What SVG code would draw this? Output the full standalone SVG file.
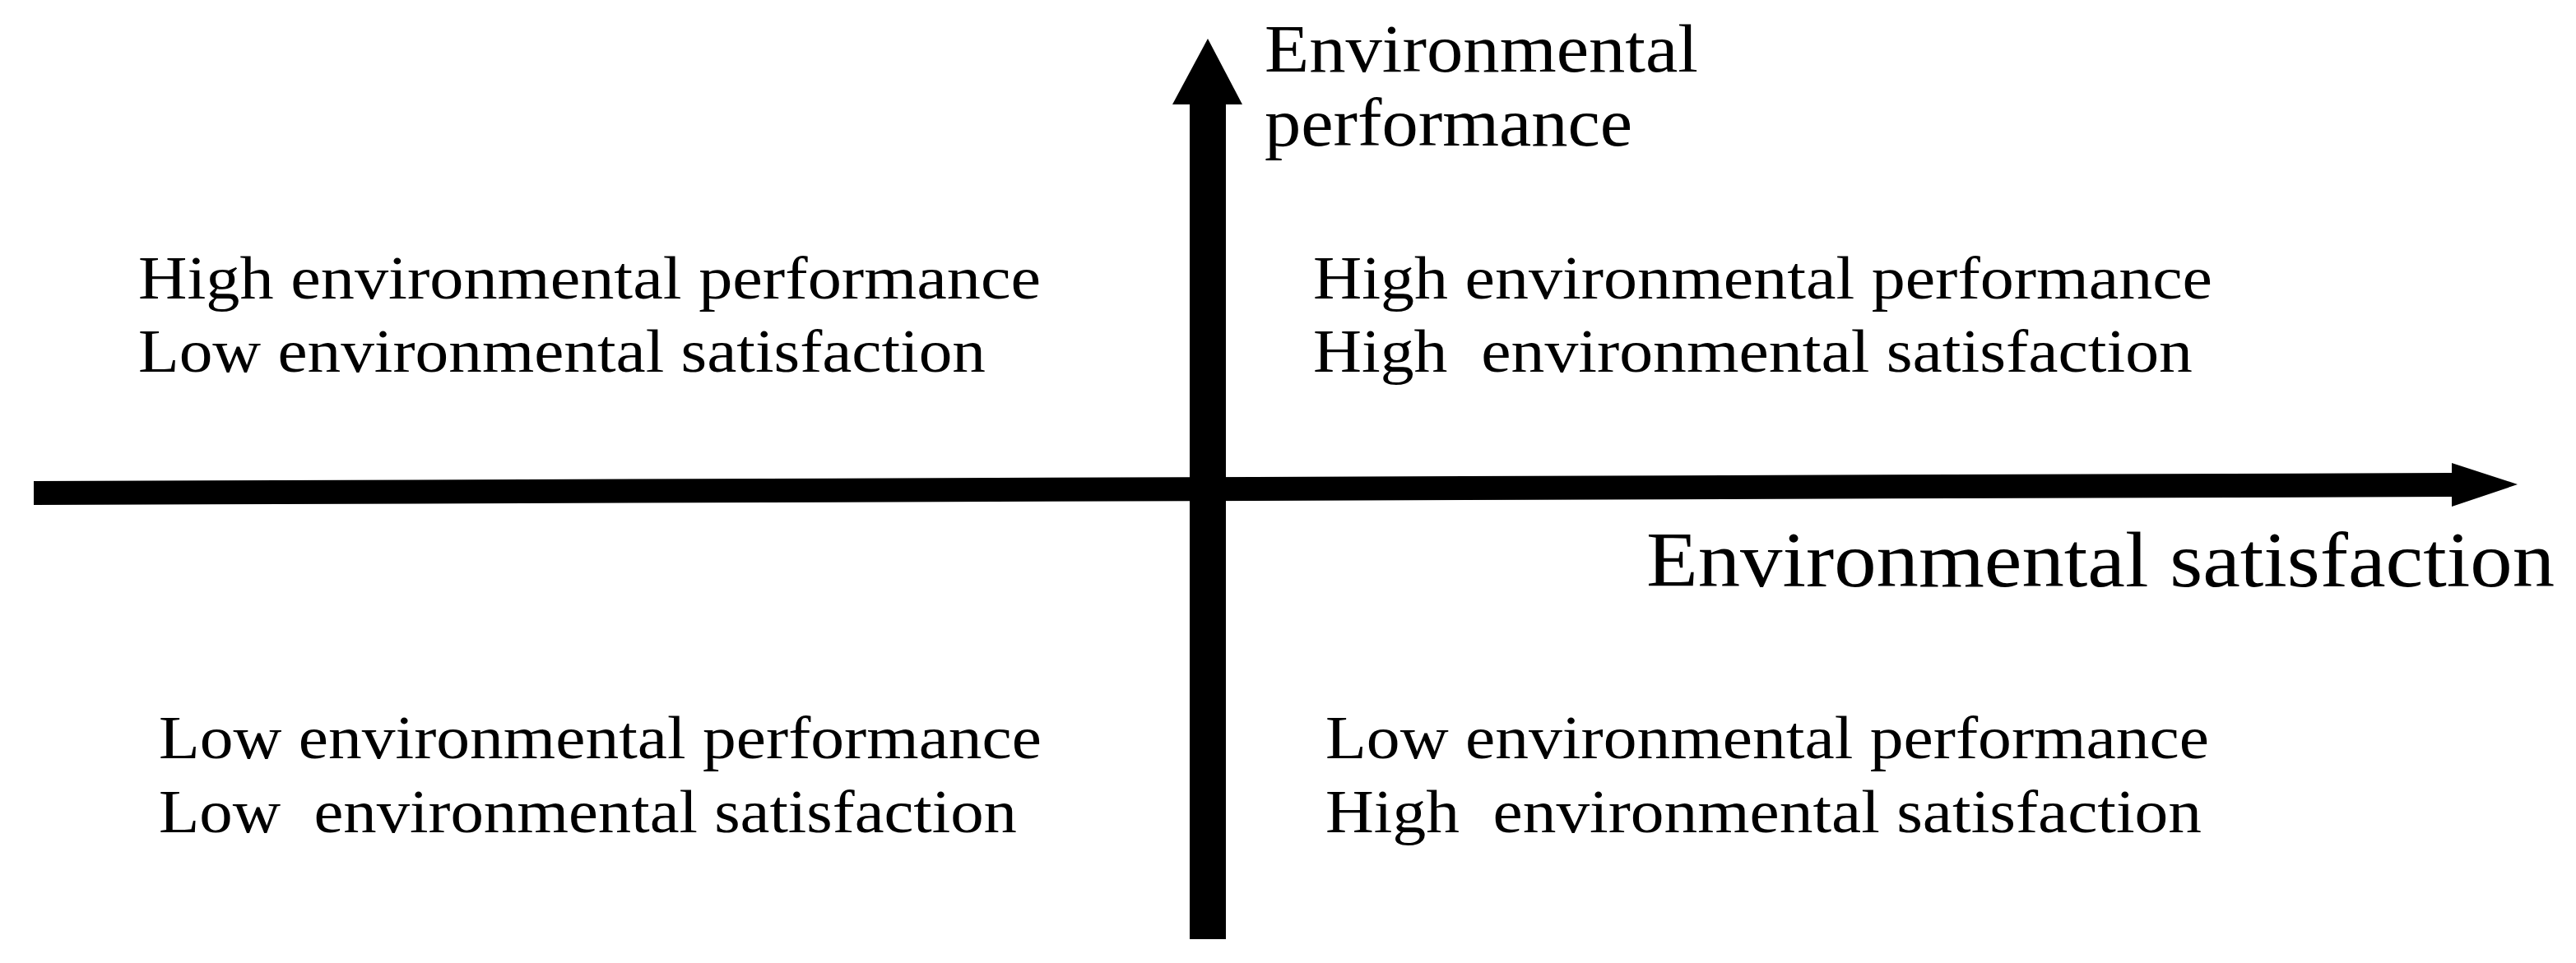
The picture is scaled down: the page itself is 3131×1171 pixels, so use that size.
<svg xmlns="http://www.w3.org/2000/svg" width="3131" height="1171" viewBox="0 0 3131 1171">
<style>
.t{font-family:"Liberation Serif","Times New Roman",serif;fill:#000;white-space:pre}
.q{font-size:74px}
.ax{fill:#000;stroke:none}
</style>
<rect width="3131" height="1171" fill="#fff"/>
<g id="connectors">
  <path id="x-axis" class="ax" d="M41,585 L2980,575 L2980,563 L3060,589 L2980,616 L2980,604 L41,614 Z"/>
  <path id="y-axis" class="ax" d="M1446,1142 L1446,127 L1425,127 L1468,47 L1510,127 L1490,127 L1490,1142 Z"/>
</g>
<g id="label-y">
  <text class="t" x="1537" y="87" font-size="83" textLength="527" lengthAdjust="spacingAndGlyphs">Environmental</text>
  <text class="t" x="1537" y="177" font-size="83" textLength="447" lengthAdjust="spacingAndGlyphs">performance</text>
</g>
<g id="label-x">
  <text class="t" x="2001" y="713" font-size="96" textLength="1104" lengthAdjust="spacingAndGlyphs">Environmental satisfaction</text>
</g>
<g id="q-top-left">
  <text class="t q" x="168" y="363" textLength="1097" lengthAdjust="spacingAndGlyphs">High environmental performance</text>
  <text class="t q" x="168" y="452" textLength="1030" lengthAdjust="spacingAndGlyphs">Low environmental satisfaction</text>
</g>
<g id="q-top-right">
  <text class="t q" x="1596" y="363" textLength="1093" lengthAdjust="spacingAndGlyphs">High environmental performance</text>
  <text class="t q" x="1596" y="452" textLength="1069" lengthAdjust="spacingAndGlyphs">High  environmental satisfaction</text>
</g>
<g id="q-bottom-left">
  <text class="t q" x="193" y="922" textLength="1073" lengthAdjust="spacingAndGlyphs">Low environmental performance</text>
  <text class="t q" x="193" y="1012" textLength="1043" lengthAdjust="spacingAndGlyphs">Low  environmental satisfaction</text>
</g>
<g id="q-bottom-right">
  <text class="t q" x="1611" y="922" textLength="1074" lengthAdjust="spacingAndGlyphs">Low environmental performance</text>
  <text class="t q" x="1611" y="1012" textLength="1065" lengthAdjust="spacingAndGlyphs">High  environmental satisfaction</text>
</g>
</svg>
